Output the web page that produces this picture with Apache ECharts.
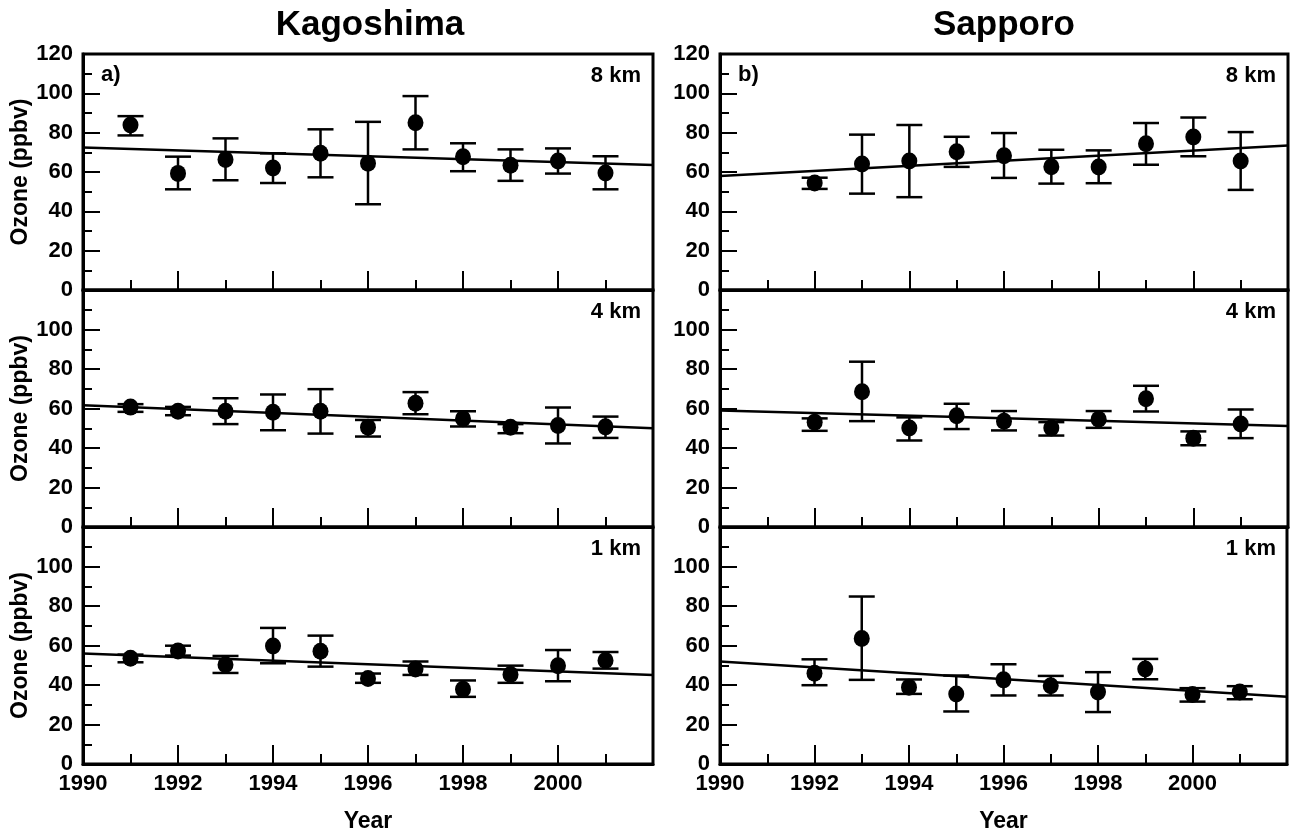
<!DOCTYPE html>
<html>
<head>
<meta charset="utf-8">
<script src="https://cdn.jsdelivr.net/npm/echarts@6/dist/echarts.min.js"></script>
<style>
  html, body { margin: 0; padding: 0; background: #fff; }
  #chart { width: 1290px; height: 834px; }
</style>
</head>
<body>
<div id="chart"></div>
<script>
// years of the soundings
const yearsKago = [1991, 1992, 1993, 1994, 1995, 1996, 1997, 1998, 1999, 2000, 2001];
const yearsSapp = [1992, 1993, 1994, 1995, 1996, 1997, 1998, 1999, 2000, 2001];
const trendYears = [1990, 2002];
const yearTicks = [1990, 1992, 1994, 1996, 1998, 2000];

// Kagoshima 8 km
const kago8 = [83.9, 59.3, 66.3, 62.0, 69.5, 64.4, 85.0, 67.8, 63.4, 65.6, 59.5];
const kago8Hi = [88.4, 67.8, 77.1, 69.5, 81.7, 85.5, 98.6, 74.6, 71.5, 72.0, 68.0];
const kago8Lo = [78.6, 51.2, 55.8, 54.4, 57.3, 43.6, 71.5, 60.4, 55.5, 59.2, 51.2];
const kago8Trend = [72.4, 63.6];

// Sapporo 8 km
const sapp8 = [54.4, 64.1, 65.6, 70.3, 68.3, 62.7, 62.6, 74.4, 77.8, 65.6];
const sapp8Hi = [57.1, 79.0, 83.9, 77.9, 79.8, 71.3, 71.0, 84.9, 87.7, 80.3];
const sapp8Lo = [51.4, 49.0, 47.2, 62.6, 57.0, 54.1, 54.3, 63.7, 68.0, 50.9];
const sapp8Trend = [58.0, 73.5];

// Kagoshima 4 km
const kago4 = [60.7, 58.6, 58.6, 58.1, 58.6, 50.5, 62.7, 54.8, 50.5, 51.4, 50.7];
const kago4Hi = [62.2, 60.8, 65.2, 67.1, 69.8, 54.2, 68.3, 58.6, 52.1, 60.5, 55.9];
const kago4Lo = [58.3, 56.6, 52.1, 49.0, 47.3, 45.8, 57.1, 50.9, 47.5, 42.3, 45.1];
const kago4Trend = [61.7, 50.0];

// Sapporo 4 km
const sapp4 = [53.1, 68.5, 50.1, 56.3, 53.6, 50.1, 54.5, 64.9, 45.0, 52.1];
const sapp4Hi = [55.0, 83.7, 55.5, 62.4, 58.7, 53.1, 58.7, 71.5, 48.4, 59.5];
const sapp4Lo = [48.7, 53.6, 43.8, 49.6, 48.9, 46.3, 50.2, 58.5, 41.4, 45.0];
const sapp4Trend = [59.0, 51.2];

// Kagoshima 1 km
const kago1 = [53.5, 57.2, 50.2, 59.8, 57.1, 43.3, 48.1, 37.9, 45.3, 49.8, 52.4];
const kago1Hi = [55.4, 59.9, 54.7, 68.9, 65.0, 45.8, 51.9, 42.3, 49.8, 57.7, 56.7];
const kago1Lo = [51.5, 54.9, 46.1, 51.0, 49.3, 41.1, 45.1, 34.0, 41.1, 41.9, 48.3];
const kago1Trend = [55.9, 45.1];

// Sapporo 1 km
const sapp1 = [46.0, 63.6, 38.9, 35.4, 42.6, 39.6, 36.4, 48.1, 35.2, 36.4];
const sapp1Hi = [53.0, 84.8, 42.8, 44.8, 50.5, 44.6, 46.5, 53.2, 38.4, 39.4];
const sapp1Lo = [39.9, 42.6, 35.5, 26.6, 34.7, 34.7, 26.3, 42.9, 31.6, 32.8];
const sapp1Trend = [51.9, 34.0];

const FONT = '"Liberation Sans", Arial, sans-serif';

const panels = [
  { left: 83, top: 54, width: 570, height: 236, years: yearsKago, v: kago8, hi: kago8Hi, lo: kago8Lo, trend: kago8Trend, level: "8 km", tag: "a)", row: 0, col: 0 },
  { left: 720, top: 54, width: 568, height: 236, years: yearsSapp, v: sapp8, hi: sapp8Hi, lo: sapp8Lo, trend: sapp8Trend, level: "8 km", tag: "b)", row: 0, col: 1 },
  { left: 83, top: 290, width: 570, height: 237, years: yearsKago, v: kago4, hi: kago4Hi, lo: kago4Lo, trend: kago4Trend, level: "4 km", row: 1, col: 0 },
  { left: 720, top: 290, width: 568, height: 237, years: yearsSapp, v: sapp4, hi: sapp4Hi, lo: sapp4Lo, trend: sapp4Trend, level: "4 km", row: 1, col: 1 },
  { left: 83, top: 527, width: 570, height: 238, years: yearsKago, v: kago1, hi: kago1Hi, lo: kago1Lo, trend: kago1Trend, level: "1 km", row: 2, col: 0 },
  { left: 720, top: 527, width: 568, height: 238, years: yearsSapp, v: sapp1, hi: sapp1Hi, lo: sapp1Lo, trend: sapp1Trend, level: "1 km", row: 2, col: 1 },
];

const chart = echarts.init(document.getElementById("chart"));

const grids = [];
const xAxes = [];
const yAxes = [];
const series = [];
const graphics = [];

panels.forEach((p, i) => {
  grids.push({
    left: p.left, top: p.top, width: p.width, height: p.height,
    show: true, borderColor: "#000", borderWidth: 3, backgroundColor: "transparent",
  });

  const isBottom = p.row === 2;
  xAxes.push({
    gridIndex: i,
    type: "value",
    min: 1990,
    max: 2002,
    interval: 2,
    splitLine: { show: false },
    axisLine: { show: true, lineStyle: { color: "#000", width: 3 } },
    axisTick: { show: true, inside: true, length: 19, lineStyle: { color: "#000", width: 2 } },
    minorTick: { show: true, splitNumber: 2, length: 10, lineStyle: { color: "#000", width: 2 } },
    axisLabel: {
      show: isBottom,
      margin: 9,
      color: "#000",
      fontFamily: FONT,
      fontWeight: "bold",
      fontSize: 22,
      formatter: (v) => (yearTicks.indexOf(v) >= 0 ? String(v) : ""),
    },
    name: isBottom ? "Year" : "",
    nameLocation: "middle",
    nameGap: 46,
    nameTextStyle: { color: "#000", fontFamily: FONT, fontWeight: "bold", fontSize: 23 },
  });

  yAxes.push({
    gridIndex: i,
    type: "value",
    min: 0,
    max: 120,
    interval: 20,
    splitLine: { show: false },
    axisLine: { show: true, lineStyle: { color: "#000", width: 3 } },
    axisTick: { show: true, inside: true, length: 17, lineStyle: { color: "#000", width: 2 } },
    minorTick: { show: true, splitNumber: 2, length: 9, lineStyle: { color: "#000", width: 2 } },
    axisLabel: {
      margin: 10,
      color: "#000",
      fontFamily: FONT,
      fontWeight: "bold",
      fontSize: 22,
      formatter: (v) => (p.row > 0 && v === 120 ? "" : String(v)),
    },
    name: p.col === 0 ? "Ozone (ppbv)" : "",
    nameLocation: "middle",
    nameGap: 48,
    nameTextStyle: { color: "#000", fontFamily: FONT, fontWeight: "bold", fontSize: 23 },
  });

  series.push({
    type: "line",
    xAxisIndex: i,
    yAxisIndex: i,
    data: trendYears.map((y, k) => [y, p.trend[k]]),
    symbol: "none",
    lineStyle: { color: "#000", width: 2.5 },
    silent: true,
    z: 2,
  });

  series.push({
    type: "custom",
    xAxisIndex: i,
    yAxisIndex: i,
    data: p.years.map((y, k) => [y, p.lo[k], p.hi[k]]),
    encode: { x: 0, y: [1, 2] },
    renderItem: (params, api) => {
      const x = api.value(0);
      const top = api.coord([x, api.value(2)]);
      const bot = api.coord([x, api.value(1)]);
      const half = 13;
      const st = { stroke: "#000", lineWidth: 2.5 };
      return {
        type: "group",
        children: [
          { type: "line", shape: { x1: top[0], y1: top[1], x2: bot[0], y2: bot[1] }, style: st },
          { type: "line", shape: { x1: top[0] - half, y1: top[1], x2: top[0] + half, y2: top[1] }, style: st },
          { type: "line", shape: { x1: bot[0] - half, y1: bot[1], x2: bot[0] + half, y2: bot[1] }, style: st },
        ],
      };
    },
    z: 3,
  });

  series.push({
    type: "scatter",
    xAxisIndex: i,
    yAxisIndex: i,
    data: p.years.map((y, k) => [y, p.v[k]]),
    symbol: "circle",
    symbolSize: [16, 17],
    itemStyle: { color: "#000", opacity: 1 },
    z: 4,
  });

  graphics.push({
    type: "text",
    x: p.left + p.width - 12,
    y: p.top + 22,
    style: { text: p.level, fill: "#000", font: "bold 22px " + FONT, textAlign: "right", textVerticalAlign: "middle" },
  });
  if (p.tag) {
    graphics.push({
      type: "text",
      x: p.left + 18,
      y: p.top + 21,
      style: { text: p.tag, fill: "#000", font: "bold 22px " + FONT, textAlign: "left", textVerticalAlign: "middle" },
    });
  }
});

graphics.push({
  type: "text", x: 370, y: 25,
  style: { text: "Kagoshima", fill: "#000", font: "bold 35px " + FONT, textAlign: "center", textVerticalAlign: "middle" },
});
graphics.push({
  type: "text", x: 1004, y: 25,
  style: { text: "Sapporo", fill: "#000", font: "bold 35px " + FONT, textAlign: "center", textVerticalAlign: "middle" },
});

const option = {
  animation: false,
  backgroundColor: "#fff",
  grid: grids,
  xAxis: xAxes,
  yAxis: yAxes,
  series: series,
  graphic: graphics,
};

chart.setOption(option);
</script>
</body>
</html>
